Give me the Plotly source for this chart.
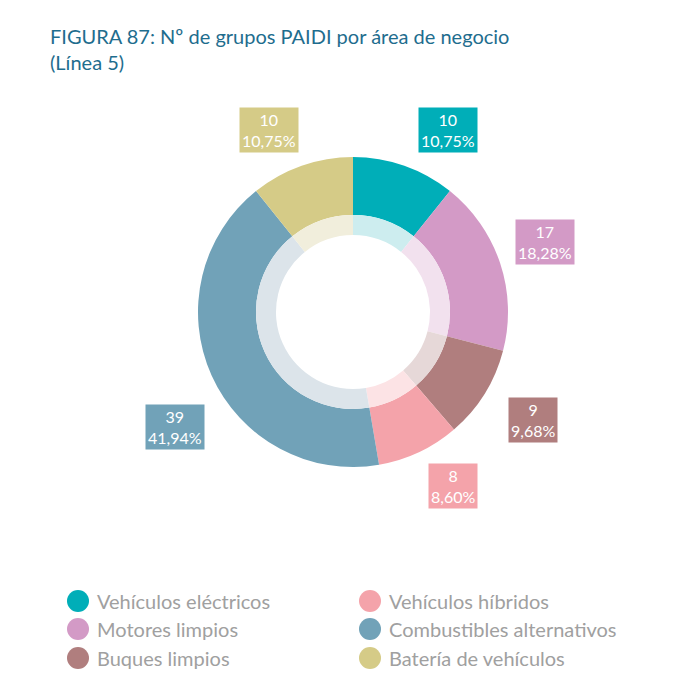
import plotly.graph_objects as go

labels = ['Vehículos eléctricos', 'Motores limpios', 'Buques limpios',
          'Vehículos híbridos', 'Combustibles alternativos', 'Batería de vehículos']
values = [10, 17, 9, 8, 39, 10]
pcts = ['10,75%', '18,28%', '9,68%', '8,60%', '41,94%', '10,75%']
colors = ['#00AEB8', '#D39AC6', '#B07E7E', '#F4A3AA', '#71A2B8', '#D5CB87']
light = ['#CDEDEF', '#F2E1EE', '#E6D8D8', '#FCE3E5', '#DCE4EA', '#F1EEDC']

W = 700
OFF = 8  # page body margin
cx, cy = 353 - OFF, 312 - OFF


def px(x):
    return (x - OFF) / W


def py(y):
    return 1 - (y - OFF) / W


def dom(r):
    return dict(x=[(cx - r) / W, (cx + r) / W], y=[1 - (cy + r) / W, 1 - (cy - r) / W])


fig = go.Figure()
fig.add_trace(go.Pie(values=values, labels=labels, marker=dict(colors=colors),
                     hole=97 / 155, sort=False, direction='clockwise', rotation=0,
                     textinfo='none', hoverinfo='label+value', domain=dom(155),
                     showlegend=False))
fig.add_trace(go.Pie(values=values, labels=labels, marker=dict(colors=light),
                     hole=77 / 97, sort=False, direction='clockwise', rotation=0,
                     textinfo='none', hoverinfo='skip', domain=dom(97),
                     showlegend=False))

label_pos = [(448, 130), (545, 242), (533, 420), (453, 486), (175, 427), (269, 130)]
ann = []
for (lx, ly), v, p, c in zip(label_pos, values, pcts, colors):
    ann.append(dict(x=px(lx), y=py(ly), xref='paper', yref='paper',
                    xanchor='center', yanchor='middle',
                    text=f'{v}<br>{p}', showarrow=False, bgcolor=c, borderpad=2,
                    font=dict(family='Lato', size=16, color='white'), align='center'))

ann.append(dict(x=px(48), y=py(22), xref='paper', yref='paper', xanchor='left', yanchor='top',
                text='FIGURA 87: Nº de grupos PAIDI por área de negocio<br>(Línea 5)',
                showarrow=False, align='left',
                font=dict(family='Lato', size=20, color='#1E6D8E')))

shapes = []
leg_pos = [(78, 601), (78, 629), (78, 658), (370, 601), (370, 629), (370, 658)]
for (lx, ly), i in zip(leg_pos, range(6)):
    shapes.append(dict(type='circle', xref='paper', yref='paper',
                       x0=px(lx - 11), x1=px(lx + 11), y0=py(ly + 11), y1=py(ly - 11),
                       fillcolor=colors[i], line=dict(width=0)))
    ann.append(dict(x=px(lx + 17), y=py(ly), xref='paper', yref='paper',
                    xanchor='left', yanchor='middle',
                    text=labels[i], showarrow=False,
                    font=dict(family='Lato', size=20, color='#A0A0A0')))

fig.update_layout(width=700, height=700, margin=dict(l=0, r=0, t=0, b=0),
                  paper_bgcolor='white', annotations=ann, shapes=shapes)
fig.write_html('out.html')
